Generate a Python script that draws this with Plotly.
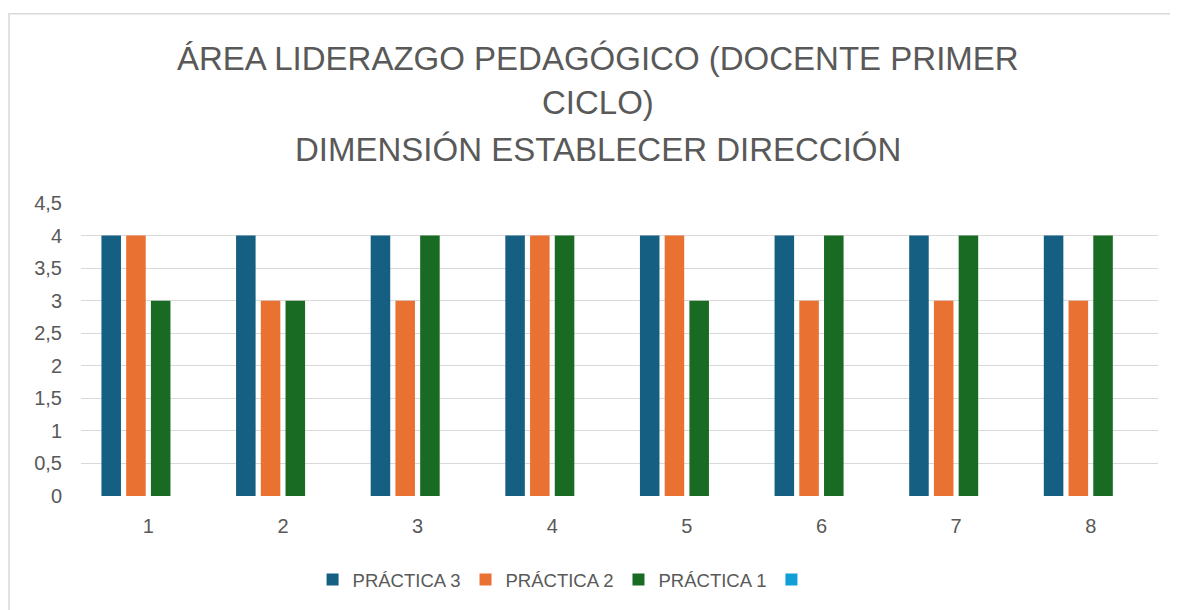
import plotly.graph_objects as go

categories = ["1", "2", "3", "4", "5", "6", "7", "8"]
practica3 = [4, 4, 4, 4, 4, 4, 4, 4]
practica2 = [4, 3, 3, 4, 4, 3, 3, 3]
practica1 = [3, 3, 4, 4, 3, 4, 4, 4]
serie4 = [None] * 8

series_names = ["PRÁCTICA 3", "PRÁCTICA 2", "PRÁCTICA 1", ""]
series_colors = ["#156082", "#E97132", "#196B24", "#0F9ED5"]
series_values = [practica3, practica2, practica1, serie4]

title_lines = [
    "ÁREA LIDERAZGO PEDAGÓGICO (DOCENTE PRIMER",
    "CICLO)",
    "DIMENSIÓN ESTABLECER DIRECCIÓN",
]
title_line_y = [1.492, 1.3435, 1.183]

text_color = "#595959"
font_family = "Liberation Sans, Arial, sans-serif"

fig = go.Figure()
for name, color, vals in zip(series_names, series_colors, series_values):
    fig.add_trace(go.Bar(
        x=categories, y=vals, name=name,
        marker=dict(color=color, line=dict(width=0)),
        showlegend=True,
    ))

annotations = [
    dict(text=t, x=0.4805, y=yy, xref="paper", yref="paper",
         xanchor="center", yanchor="middle", showarrow=False,
         font=dict(size=33, color=text_color, family=font_family))
    for t, yy in zip(title_lines, title_line_y)
]

fig.update_layout(
    width=1170, height=602,
    barmode="group",
    bargap=0.265,
    bargroupgap=0.21,
    separators=", ",
    paper_bgcolor="white",
    plot_bgcolor="white",
    margin=dict(l=73, r=20, t=195, b=113),
    font=dict(family=font_family, color=text_color, size=20),
    annotations=annotations,
    legend=dict(
        orientation="h",
        x=0.449, xanchor="center", xref="paper",
        y=-0.282, yanchor="middle",
        font=dict(size=18.5, color=text_color),
        itemwidth=30,
        traceorder="normal",
    ),
    yaxis=dict(
        range=[0, 4.5], dtick=0.5, tick0=0,
        showgrid=True, gridcolor="#D9D9D9", gridwidth=1.4,
        zeroline=False, showline=False,
        ticks="", ticklabelstandoff=18,
        tickfont=dict(size=20, color=text_color),
        fixedrange=True,
    ),
    xaxis=dict(
        showgrid=False, zeroline=False, showline=False,
        ticks="", ticklabelstandoff=16,
        tickfont=dict(size=20, color=text_color),
    ),
    shapes=[
        dict(type="rect", xref="paper", yref="paper",
             x0=(1 - 73) / 1077, x1=1.2, y0=-0.6, y1=(489 - 5) / 294,
             line=dict(color="#D9D9D9", width=1.5), fillcolor="rgba(0,0,0,0)",
             layer="below"),
    ],
)

fig.write_html("out.html")
